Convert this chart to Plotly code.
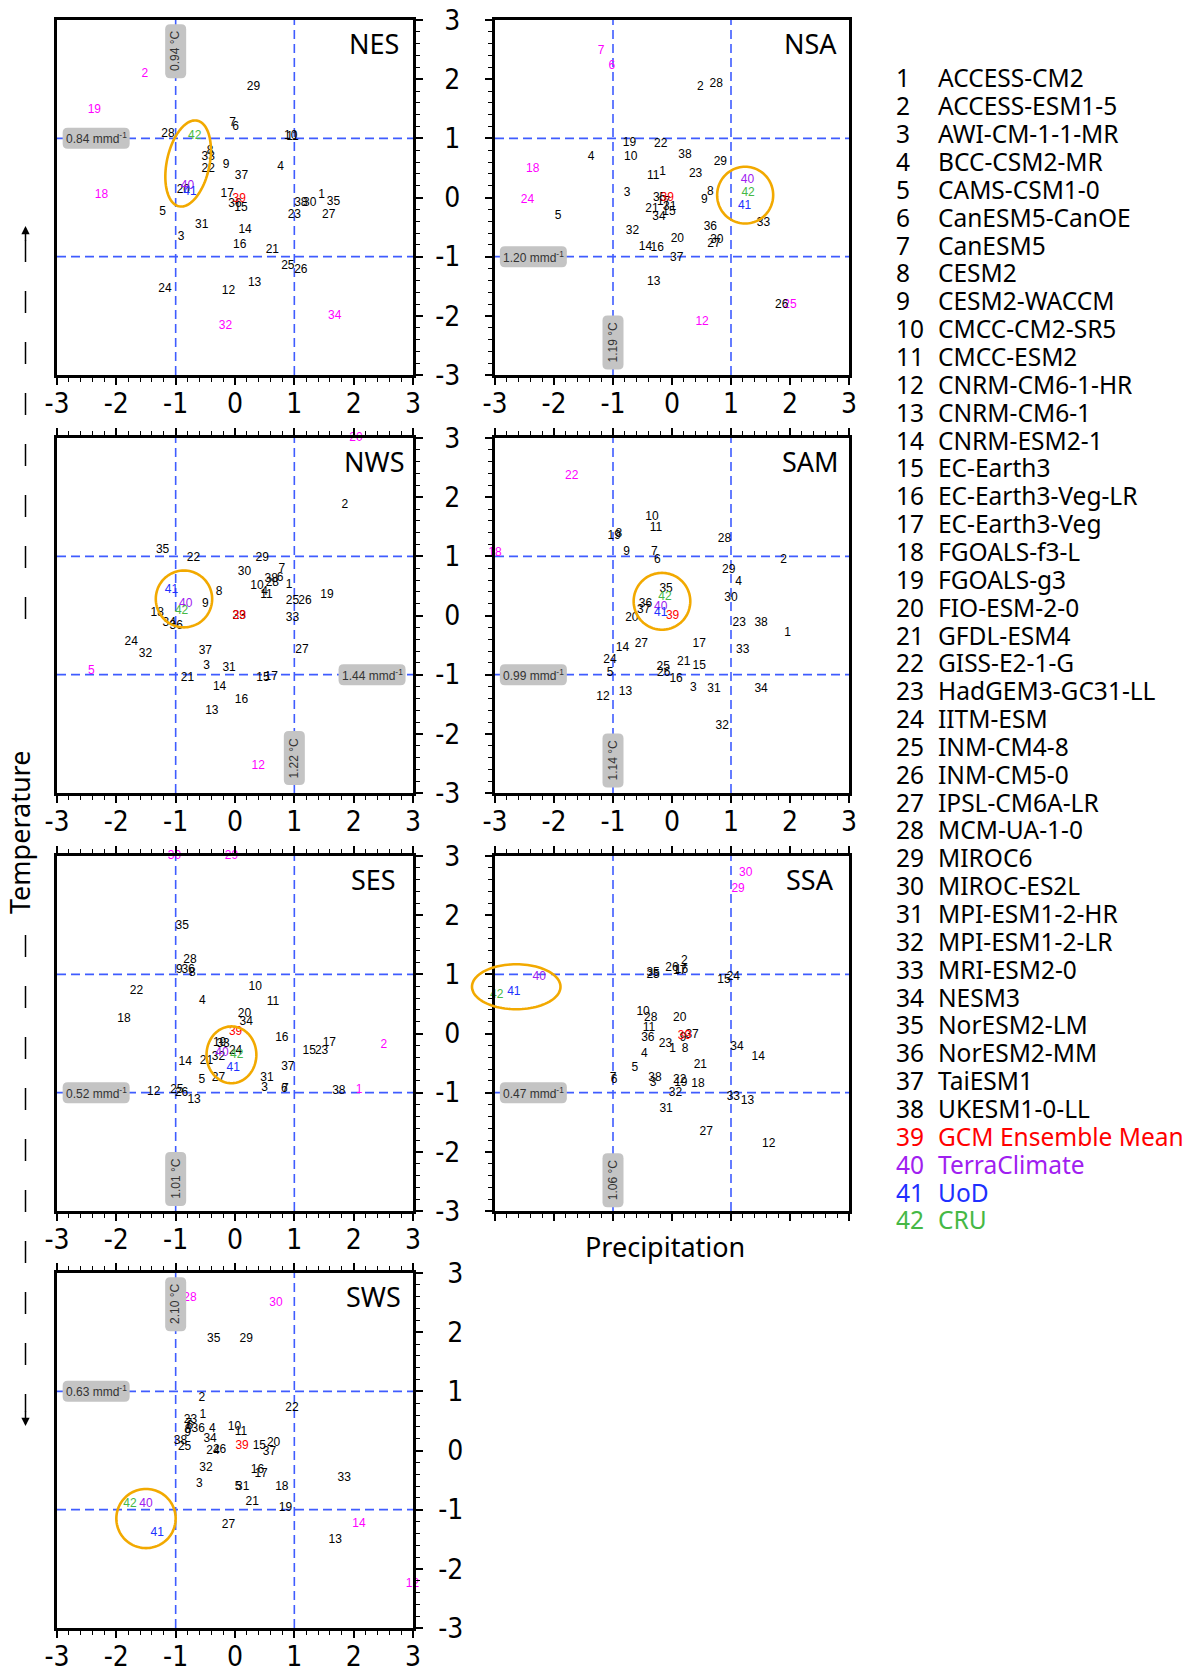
import math
import plotly.graph_objects as go

W, H = 1192, 1672

MODELS = ["ACCESS-CM2", "ACCESS-ESM1-5", "AWI-CM-1-1-MR", "BCC-CSM2-MR", "CAMS-CSM1-0",
          "CanESM5-CanOE", "CanESM5", "CESM2", "CESM2-WACCM", "CMCC-CM2-SR5", "CMCC-ESM2",
          "CNRM-CM6-1-HR", "CNRM-CM6-1", "CNRM-ESM2-1", "EC-Earth3", "EC-Earth3-Veg-LR",
          "EC-Earth3-Veg", "FGOALS-f3-L", "FGOALS-g3", "FIO-ESM-2-0", "GFDL-ESM4", "GISS-E2-1-G",
          "HadGEM3-GC31-LL", "IITM-ESM", "INM-CM4-8", "INM-CM5-0", "IPSL-CM6A-LR", "MCM-UA-1-0",
          "MIROC6", "MIROC-ES2L", "MPI-ESM1-2-HR", "MPI-ESM1-2-LR", "MRI-ESM2-0", "NESM3",
          "NorESM2-LM", "NorESM2-MM", "TaiESM1", "UKESM1-0-LL", "GCM Ensemble Mean",
          "TerraClimate", "UoD", "CRU"]

TICK_VALS = [-3, -2, -1, 0, 1, 2, 3]
TICK_TEXT = ["-3", "-2", "-1", "0", "1", "2", "3"]

# normalised precipitation (x) and temperature (y) anomalies, models 1..42
NES_X = [1.46, -1.52, -0.91, 0.77, -1.22, 0.01, -0.04, -0.42, -0.15, 0.94, 0.97, -0.11, 0.33, 0.17, 0.10, 0.08, -0.13, -2.25, -2.37, -0.87, 0.63, -0.45, 1.00, -1.18, 0.89, 1.11, 1.58, -1.13, 0.31, 1.26, -0.56, -0.16, -0.45, 1.68, 1.66, 0.00, 0.11, 1.11, 0.07, -0.80, -0.76, -0.68]
NES_Y = [0.05, 2.09, -0.67, 0.52, -0.24, 1.20, 1.26, 0.78, 0.55, 1.04, 1.03, -1.58, -1.45, -0.55, -0.18, -0.81, 0.06, 0.04, 1.48, 0.13, -0.88, 0.49, -0.30, -1.54, -1.16, -1.22, -0.30, 1.08, 1.87, -0.10, -0.46, -2.17, 0.68, -2.01, -0.08, -0.11, 0.37, -0.10, -0.03, 0.19, 0.09, 1.04]
NES_MAG = [2, 18, 19, 32, 34]

NSA_X = [-0.16, 0.48, -0.76, -1.37, -1.93, -1.02, -1.20, 0.65, 0.55, -0.70, -0.32, 0.51, -0.31, -0.45, -0.05, -0.25, -0.14, -2.36, -0.72, 0.09, -0.34, -0.19, 0.40, -2.45, 2.00, 1.86, 0.71, 0.75, 0.82, 0.76, -0.04, -0.67, 1.55, -0.22, -0.21, 0.65, 0.08, 0.22, -0.08, 1.28, 1.23, 1.29]
NSA_Y = [0.43, 1.87, 0.08, 0.68, -0.32, 2.23, 2.47, 0.10, -0.05, 0.68, 0.36, -2.10, -1.43, -0.84, -0.24, -0.85, -0.08, 0.48, 0.92, -0.70, -0.19, 0.90, 0.39, -0.04, -1.81, -1.81, -0.79, 1.92, 0.60, -0.72, -0.16, -0.56, -0.43, -0.33, -0.01, -0.50, -1.02, 0.71, -0.01, 0.30, -0.15, 0.07]
NSA_MAG = [6, 7, 12, 18, 24, 25]

NWS_X = [0.91, 1.85, -0.48, 0.50, -2.42, 0.76, 0.79, -0.27, -0.50, 0.37, 0.53, 0.39, -0.39, -0.26, 0.47, 0.11, 0.61, -1.31, 1.55, 2.04, -0.80, -0.70, 0.07, -1.75, 0.97, 1.18, 1.13, 0.63, 0.46, 0.16, -0.10, -1.51, 0.97, -1.11, -1.22, -0.99, -0.50, 0.61, 0.07, -0.83, -1.07, -0.90]
NWS_Y = [0.52, 1.87, -0.86, 0.39, -0.93, 0.63, 0.79, 0.39, 0.20, 0.50, 0.35, -2.55, -1.62, -1.20, -1.06, -1.42, -1.04, 0.04, 0.34, 3.00, -1.06, 0.98, 0.00, -0.45, 0.25, 0.25, -0.58, 0.55, 0.98, 0.73, -0.89, -0.65, -0.04, -0.13, 1.11, -0.18, -0.60, 0.62, 0.00, 0.20, 0.43, 0.07]
NWS_MAG = [5, 12, 20]

SAM_X = [1.96, 1.89, 0.36, 1.13, -1.05, -0.25, -0.30, -0.90, -0.77, -0.34, -0.27, -1.17, -0.79, -0.84, 0.46, 0.07, 0.46, -3.00, -0.98, -0.68, 0.20, -1.70, 1.14, -1.05, -0.15, -0.14, -0.52, 0.89, 0.96, 1.00, 0.71, 0.85, 1.20, 1.51, -0.10, -0.45, -0.48, 1.51, 0.01, -0.19, -0.19, -0.12]
SAM_Y = [-0.30, 0.93, -1.23, 0.57, -0.98, 0.93, 1.08, 1.37, 1.08, 1.66, 1.48, -1.37, -1.29, -0.55, -0.85, -1.07, -0.49, 1.06, 1.35, -0.04, -0.79, 2.35, -0.12, -0.75, -0.87, -0.97, -0.48, 1.30, 0.77, 0.30, -1.24, -1.86, -0.58, -1.24, 0.44, 0.19, 0.10, -0.12, -0.01, 0.14, 0.04, 0.32]
SAM_MAG = [18, 22]

SES_X = [2.09, 2.51, 0.50, -0.55, -0.56, 0.83, 0.85, -0.72, -0.94, 0.34, 0.64, -1.37, -0.69, -0.84, 1.25, 0.79, 1.59, -1.87, -0.26, 0.16, -0.48, -1.66, 1.46, 0.01, -0.98, -0.90, -0.28, -0.76, -0.06, -1.02, 0.54, -0.28, -0.20, 0.19, -0.89, -0.79, 0.89, 1.75, 0.01, -0.22, -0.03, 0.03]
SES_Y = [-0.95, -0.19, -0.92, 0.55, -0.79, -0.93, -0.93, 1.02, 1.07, 0.79, 0.53, -0.99, -1.13, -0.49, -0.30, -0.08, -0.16, 0.25, -0.16, 0.33, -0.47, 0.71, -0.30, -0.29, -0.96, -1.01, -0.75, 1.24, 3.00, 3.00, -0.76, -0.40, -0.17, 0.20, 1.81, 1.07, -0.56, -0.98, 0.02, -0.33, -0.58, -0.36]
SES_MAG = [1, 2, 29, 30]

SSA_X = [0.01, 0.21, -0.32, -0.47, -0.63, -0.98, -1.00, 0.22, 0.19, -0.49, -0.39, 1.64, 1.28, 1.46, 0.88, 0.16, 0.13, 0.44, 0.15, 0.13, 0.48, 0.13, -0.11, 1.04, -0.32, 0.00, 0.58, -0.36, 1.12, 1.25, -0.10, 0.06, 1.04, 1.10, -0.32, -0.41, 0.34, -0.29, 0.21, -2.25, -2.68, -2.97]
SSA_Y = [-0.26, 1.23, -0.83, -0.35, -0.58, -0.78, -0.76, -0.26, -0.08, 0.36, 0.10, -1.87, -1.14, -0.40, 0.91, 1.08, 1.05, -0.86, -0.83, 0.27, -0.54, -0.78, -0.17, 0.96, 0.99, 1.10, -1.67, 0.27, 2.45, 2.71, -1.28, -1.01, -1.08, -0.22, 1.03, -0.08, -0.03, -0.76, -0.05, 0.95, 0.70, 0.65]
SSA_MAG = [29, 30]

SWS_X = [-0.54, -0.56, -0.60, -0.38, 0.05, -0.76, -0.78, -0.79, -0.80, -0.01, 0.10, 2.99, 1.69, 2.09, 0.41, 0.38, 0.44, 0.79, 0.85, 0.65, 0.29, 0.96, -0.75, -0.37, -0.85, -0.26, -0.11, -0.76, 0.19, 0.69, 0.13, -0.49, 1.84, -0.42, -0.36, -0.62, 0.58, -0.92, 0.12, -1.50, -1.31, -1.77]
SWS_Y = [0.60, 0.88, -0.57, 0.36, -0.62, 0.42, 0.45, 0.35, 0.29, 0.40, 0.31, -2.25, -1.51, -1.25, 0.07, -0.33, -0.40, -0.61, -0.98, 0.12, -0.87, 0.71, 0.52, 0.00, 0.06, 0.01, -1.26, 2.58, 1.89, 2.49, -0.61, -0.29, -0.47, 0.20, 1.89, 0.36, -0.03, 0.16, 0.07, -0.91, -1.40, -0.91]
SWS_MAG = [12, 14, 28, 30]

# observed interannual std labels
MMD_TXT = ["0.84", "1.20", "1.44", "0.99", "0.52", "0.47", "0.63"]
DEGC_TXT = ["0.94", "1.19", "1.22", "1.14", "1.01", "1.06", "2.10"]

PANELS = [
    dict(name="NES", row=0, col=0, x=NES_X, y=NES_Y, mag=NES_MAG, mmd_at=(-2.34, 1.0), deg_at=(-1.0, 2.47), ell=(-0.79, 0.575, 0.74, 0.36, 78)),
    dict(name="NSA", row=0, col=1, x=NSA_X, y=NSA_Y, mag=NSA_MAG, mmd_at=(-2.35, -1.0), deg_at=(-1.0, -2.45), ell=(1.24, 0.04, 0.475, 0.48, 0)),
    dict(name="NWS", row=1, col=0, x=NWS_X, y=NWS_Y, mag=NWS_MAG, mmd_at=(2.31, -1.0), deg_at=(1.0, -2.41), ell=(-0.86, 0.28, 0.475, 0.48, 0)),
    dict(name="SAM", row=1, col=1, x=SAM_X, y=SAM_Y, mag=SAM_MAG, mmd_at=(-2.35, -1.0), deg_at=(-1.0, -2.45), ell=(-0.17, 0.24, 0.48, 0.48, 0)),
    dict(name="SES", row=2, col=0, x=SES_X, y=SES_Y, mag=SES_MAG, mmd_at=(-2.34, -1.0), deg_at=(-1.0, -2.46), ell=(-0.06, -0.36, 0.42, 0.48, 0)),
    dict(name="SSA", row=2, col=1, x=SSA_X, y=SSA_Y, mag=SSA_MAG, mmd_at=(-2.35, -1.0), deg_at=(-1.0, -2.48), ell=(-2.64, 0.79, 0.75, 0.38, 0)),
    dict(name="SWS", row=3, col=0, x=SWS_X, y=SWS_Y, mag=SWS_MAG, mmd_at=(-2.34, 1.0), deg_at=(-1.0, 2.47), ell=(-1.50, -1.15, 0.50, 0.50, 0)),
]

SPECIAL = {39: "#ff0000", 40: "#a020f0", 41: "#2030ff", 42: "#45b845"}
MAGENTA = "#ff00ff"
GRID_BLUE = "#3f5cff"
ORANGE = "#f2a900"
BOX_GRAY = "#c4c4c4"

COL_X = [(57, 413), (495, 849)]
ROW_TOP = [20, 438, 856, 1273]
PH = 355

TICK_FONT = dict(family="Liberation Sans Narrow, DejaVu Sans Condensed, Arial Narrow, sans-serif", size=28, color="black")
NUM_FONT = "Liberation Sans, Arial, sans-serif"
GOTHIC = "Noto Sans, DejaVu Sans, sans-serif"


def dom(v):
    return (v + 3.0) / 6.0


def ellipse_path(cx, cy, a, b, ang):
    th = math.radians(ang)
    pts = []
    for k in range(97):
        t = 2 * math.pi * k / 96
        dx = a * math.cos(t) * math.cos(th) - b * math.sin(t) * math.sin(th)
        dy = a * math.cos(t) * math.sin(th) + b * math.sin(t) * math.cos(th)
        pts.append((dom(cx + dx), dom(cy + dy)))
    return "M " + " L ".join(f"{px:.5f},{py:.5f}" for px, py in pts) + " Z"


def rrect(hw, hh, r):
    return (f"M {-hw + r},{-hh} L {hw - r},{-hh} Q {hw},{-hh} {hw},{-hh + r} "
            f"L {hw},{hh - r} Q {hw},{hh} {hw - r},{hh} L {-hw + r},{hh} "
            f"Q {-hw},{hh} {-hw},{hh - r} L {-hw},{-hh + r} Q {-hw},{-hh} {-hw + r},{-hh} Z")


fig = go.Figure()
shapes = []
annotations = []
layout_axes = {}

for i, p in enumerate(PANELS):
    n = i + 1
    xr = "x" if n == 1 else f"x{n}"
    yr = "y" if n == 1 else f"y{n}"
    left = p["col"] == 0
    x0, x1 = COL_X[p["col"]]
    top = ROW_TOP[p["row"]]
    xd = [x0 / W, x1 / W]
    yd = [1 - (top + PH) / H, 1 - top / H]

    colors = []
    for k in range(1, 43):
        if k in SPECIAL:
            colors.append(SPECIAL[k])
        elif k in p["mag"]:
            colors.append(MAGENTA)
        else:
            colors.append("black")

    fig.add_trace(go.Scatter(
        x=p["x"], y=p["y"], mode="text", text=[str(k) for k in range(1, 43)],
        textposition="middle center", textfont=dict(family=NUM_FONT, size=12, color=colors),
        cliponaxis=False, hoverinfo="skip", showlegend=False, xaxis=xr, yaxis=yr))

    minor = dict(ticks="outside", ticklen=4, tickwidth=1.2, tickcolor="black", dtick=0.2, tick0=0, showgrid=False)
    layout_axes["xaxis" if n == 1 else f"xaxis{n}"] = dict(
        domain=xd, range=[-3, 3], anchor=yr, tickmode="array", tickvals=TICK_VALS, ticktext=TICK_TEXT,
        ticks="outside", ticklen=7, tickwidth=1.5, tickcolor="black", minor=minor,
        showline=True, linewidth=3, linecolor="black", mirror=("ticks" if p["row"] > 0 else True),
        showgrid=False, zeroline=False, showticklabels=(p["name"] != "SSA"),
        tickfont=TICK_FONT, ticklabelstandoff=-6, fixedrange=True, automargin=False)
    layout_axes["yaxis" if n == 1 else f"yaxis{n}"] = dict(
        domain=yd, range=[-3, 3], anchor=xr, side=("right" if left else "left"),
        tickmode="array", tickvals=TICK_VALS, ticktext=TICK_TEXT,
        ticks="outside", ticklen=7, tickwidth=1.5, tickcolor="black", minor=minor,
        showline=True, linewidth=3, linecolor="black", mirror=True,
        showgrid=False, zeroline=False, showticklabels=(not left),
        tickfont=TICK_FONT, ticklabelstandoff=19, fixedrange=True, automargin=False)

    # dashed reference lines at +-1
    for v in (-1, 1):
        shapes.append(dict(type="line", xref=xr, yref=f"{yr} domain", x0=v, x1=v, y0=0, y1=1,
                           line=dict(color=GRID_BLUE, width=1.6, dash="9px,5px"), layer="below"))
        shapes.append(dict(type="line", xref=f"{xr} domain", yref=yr, x0=0, x1=1, y0=v, y1=v,
                           line=dict(color=GRID_BLUE, width=1.6, dash="9px,5px"), layer="below"))

    # observational ellipse
    shapes.append(dict(type="path", xref=f"{xr} domain", yref=f"{yr} domain",
                       path=ellipse_path(*p["ell"]), line=dict(color=ORANGE, width=2.6),
                       fillcolor="rgba(0,0,0,0)", layer="above"))

    # grey value boxes
    mx, my = p["mmd_at"]
    shapes.append(dict(type="path", xref=xr, yref=yr, xsizemode="pixel", ysizemode="pixel",
                       xanchor=mx, yanchor=my, path=rrect(33.5, 10.5, 5), fillcolor=BOX_GRAY,
                       line=dict(width=0), layer="above"))
    annotations.append(dict(xref=xr, yref=yr, x=mx, y=my, showarrow=False,
                            text=f"{MMD_TXT[i]} mmd<sup>-1</sup>",
                            font=dict(family=NUM_FONT, size=12, color="#333333")))
    dx_, dy_ = p["deg_at"]
    shapes.append(dict(type="path", xref=xr, yref=yr, xsizemode="pixel", ysizemode="pixel",
                       xanchor=dx_, yanchor=dy_, path=rrect(10.5, 27, 5), fillcolor=BOX_GRAY,
                       line=dict(width=0), layer="above"))
    annotations.append(dict(xref=xr, yref=yr, x=dx_, y=dy_, showarrow=False, textangle=-90,
                            text=f"{DEGC_TXT[i]} °C",
                            font=dict(family=NUM_FONT, size=12, color="#333333")))

    # panel title
    annotations.append(dict(xref=f"{xr} domain", yref=f"{yr} domain", x=0.89, y=1 - 23 / PH,
                            xanchor="center", yanchor="middle", showarrow=False, text=p["name"],
                            font=dict(family=GOTHIC, size=27, color="black")))

# label axis for the bottom-left panel (labels sit to its right)
layout_axes["yaxis8"] = dict(overlaying="y7", anchor="free", position=COL_X[1][0] / W, side="left",
                             range=[-3, 3], tickmode="array", tickvals=TICK_VALS, ticktext=TICK_TEXT,
                             ticks="outside", ticklen=7, tickcolor="rgba(0,0,0,0)", showline=False,
                             showgrid=False, zeroline=False, tickfont=TICK_FONT, ticklabelstandoff=19,
                             fixedrange=True, automargin=False)
fig.add_trace(go.Scatter(x=[None], y=[None], xaxis="x7", yaxis="y8", mode="markers",
                         showlegend=False, hoverinfo="skip"))

# legend list
LEG_X_NUM, LEG_X_NAME, LEG_Y0, LEG_DY = 894, 936, 78, 27.85
for k, name in enumerate(MODELS, start=1):
    col = SPECIAL.get(k, "black")
    yc = 1 - (LEG_Y0 + (k - 1) * LEG_DY) / H
    annotations.append(dict(xref="paper", yref="paper", x=LEG_X_NUM / W, y=yc, xanchor="left",
                            yanchor="middle", showarrow=False, text=str(k),
                            font=dict(family=GOTHIC, size=24.5, color=col)))
    annotations.append(dict(xref="paper", yref="paper", x=LEG_X_NAME / W, y=yc, xanchor="left",
                            yanchor="middle", showarrow=False, text=name,
                            font=dict(family=GOTHIC, size=24.5, color=col)))

# axis titles
annotations.append(dict(xref="paper", yref="paper", x=665 / W, y=1 - 1246 / H, showarrow=False,
                        text="Precipitation", xanchor="center", yanchor="middle",
                        font=dict(family=GOTHIC, size=27, color="black")))
annotations.append(dict(xref="paper", yref="paper", x=20 / W, y=1 - 833 / H, showarrow=False,
                        text="Temperature", textangle=-90, xanchor="center", yanchor="middle",
                        font=dict(family=GOTHIC, size=27, color="black")))

# dashed arrows beside the temperature title
AX = 25.5 / W
shapes.append(dict(type="line", xref="paper", yref="paper", x0=AX, x1=AX, y0=1 - 240 / H, y1=1 - 624 / H,
                   line=dict(color="black", width=1.5, dash="22px,29px")))
shapes.append(dict(type="line", xref="paper", yref="paper", x0=AX, x1=AX, y0=1 - 935 / H, y1=1 - 1412 / H,
                   line=dict(color="black", width=1.5, dash="22px,29px")))
annotations.append(dict(xref="paper", yref="paper", x=AX, y=1 - 226 / H, ax=0, ay=16, showarrow=True,
                        arrowhead=2, arrowsize=1.1, arrowwidth=1.5, arrowcolor="black", text=""))
annotations.append(dict(xref="paper", yref="paper", x=AX, y=1 - 1426 / H, ax=0, ay=-16, showarrow=True,
                        arrowhead=2, arrowsize=1.1, arrowwidth=1.5, arrowcolor="black", text=""))

fig.update_layout(width=W, height=H, margin=dict(l=0, r=0, t=0, b=0, autoexpand=False),
                  paper_bgcolor="white", plot_bgcolor="white", showlegend=False,
                  shapes=shapes, annotations=annotations, **layout_axes)

fig.write_html("out.html", config={"displayModeBar": False})
